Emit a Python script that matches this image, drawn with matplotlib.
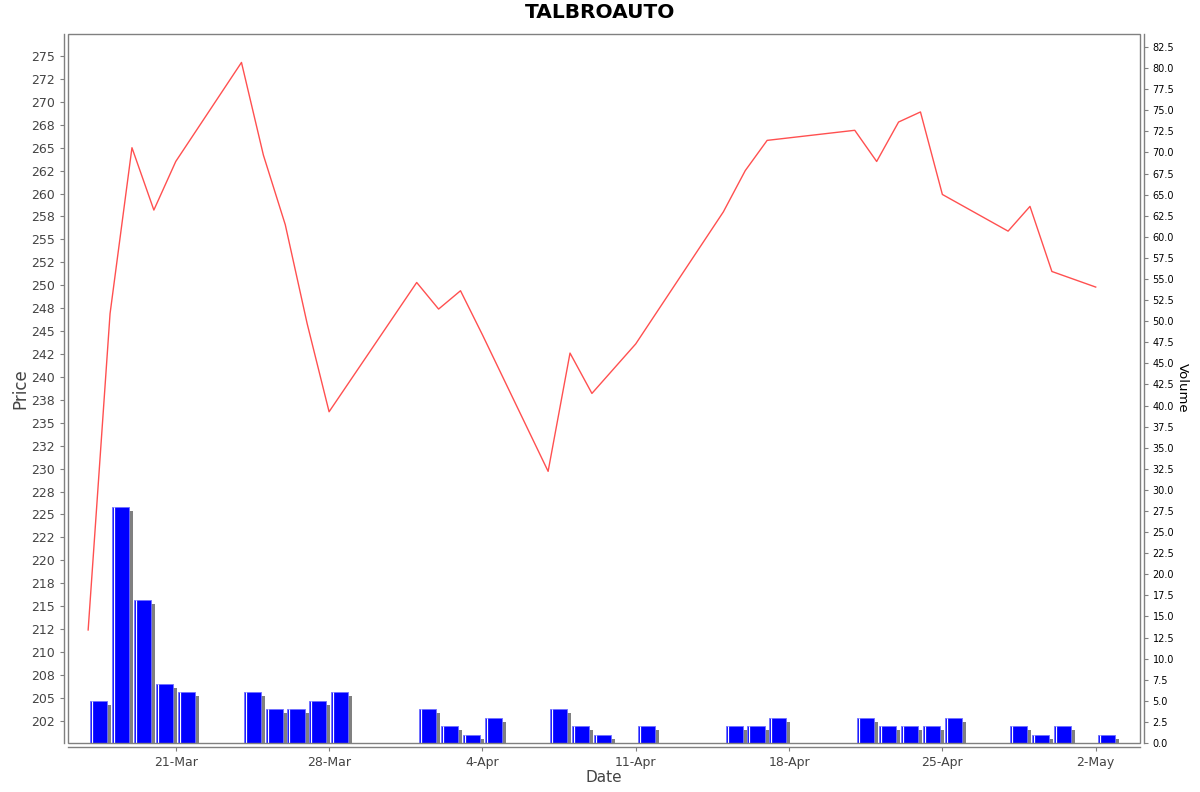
import matplotlib
matplotlib.use("Agg")
import matplotlib.pyplot as plt
import matplotlib.dates as mdates
import matplotlib.patheffects as pe
import numpy as np
from datetime import datetime

# trading days (2025) and values
dates = ["2025-03-17", "2025-03-18", "2025-03-19", "2025-03-20", "2025-03-21",
         "2025-03-24", "2025-03-25", "2025-03-26", "2025-03-27", "2025-03-28",
         "2025-04-01", "2025-04-02", "2025-04-03", "2025-04-04",
         "2025-04-07", "2025-04-08", "2025-04-09", "2025-04-11",
         "2025-04-15", "2025-04-16", "2025-04-17",
         "2025-04-21", "2025-04-22", "2025-04-23", "2025-04-24", "2025-04-25",
         "2025-04-28", "2025-04-29", "2025-04-30", "2025-05-02"]
price = [212.4, 246.9, 265.0, 258.2, 263.5,
         274.3, 264.2, 256.6, 245.8, 236.2,
         250.3, 247.4, 249.4, 244.6,
         229.7, 242.6, 238.2, 243.6,
         258.0, 262.5, 265.8,
         266.9, 263.5, 267.8, 268.9, 259.9,
         255.9, 258.6, 251.5, 249.8]
volume = [5, 28, 17, 7, 6,
          6, 4, 4, 5, 6,
          4, 2, 1, 3,
          4, 2, 1, 2,
          2, 2, 3,
          3, 2, 2, 2, 3,
          2, 1, 2, 1]

title = "TALBROAUTO"

x = mdates.date2num([datetime.strptime(d, "%Y-%m-%d") for d in dates])

W, H = 1200, 792
fig = plt.figure(figsize=(W / 100, H / 100), dpi=100)
L, R, T, B = 68, 1139.5, 34.3, 743
ax = fig.add_axes([L / W, 1 - B / H, (R - L) / W, (B - T) / H])
ax2 = ax.twinx()

frame_col = "#808080"
off = 4 * 72 / 100  # 4 px outward axis lines

# spines / tick styling first, so label sizes set later stick
for a in (ax, ax2):
    for s in a.spines.values():
        s.set_visible(False)
    a.tick_params(colors=frame_col, length=3, width=0.8)

ax.spines["left"].set_visible(True)
ax.spines["left"].set_position(("outward", off))
ax.spines["bottom"].set_visible(True)
ax.spines["bottom"].set_position(("outward", off))
ax2.spines["right"].set_visible(True)
ax2.spines["right"].set_position(("outward", off))
for s in (ax.spines["left"], ax.spines["bottom"], ax2.spines["right"]):
    s.set_color(frame_col)
    s.set_linewidth(1.0)

# volume bars (right axis)
bars = ax2.bar(x + 0.1, volume, width=0.78, align="edge", color="#0000ff",
               edgecolor="#7070ff", linewidth=0.6, zorder=2)
for b in bars:
    b.set_path_effects([pe.SimplePatchShadow(offset=(off, -off), shadow_rgbFace="#808080", alpha=1.0),
                        pe.Normal()])
ax2.vlines(x + 0.19, 0, volume, colors="white", linewidth=0.9, zorder=3)
ax2.set_ylim(0, 84)
vt = np.arange(0, 83, 2.5)
ax2.set_yticks(vt, [f"{v:.1f}" for v in vt])
ax2.tick_params(axis="y", labelsize=7, labelcolor="black")
fig.text(1182 / W, 1 - 388 / H, "Volume", rotation=270, fontsize=9.5,
         ha="center", va="center", color="black")

# price line (left axis)
ax.set_zorder(ax2.get_zorder() + 1)
ax.patch.set_visible(False)
ax.plot(x, price, color="#ff5050", linewidth=1.0)
ax.set_ylim(200.07, 277.37)
ticks = np.arange(202.5, 276, 2.5)
ax.set_yticks(ticks, [f"{v:.0f}" for v in ticks])
ax.tick_params(axis="y", labelsize=9, labelcolor="#444444")
ax.set_ylabel("Price", fontsize=12, color="#444444", labelpad=1)

ax.set_xlim(x[0] - 0.92, x[-1] + 2.0)
ax.xaxis.set_major_locator(mdates.WeekdayLocator(byweekday=mdates.FR))
ax.xaxis.set_major_formatter(mdates.DateFormatter("%-d-%b"))
ax.tick_params(axis="x", labelsize=9, labelcolor="#444444")
ax.set_xlabel("Date", fontsize=11, color="#444444", labelpad=1)

ax.add_patch(plt.Rectangle((0, 0), 1, 1, transform=ax.transAxes, fill=False,
                           edgecolor=frame_col, linewidth=1.0, clip_on=False, zorder=5))

fig.suptitle(title, fontsize=14.5, fontweight="bold", y=1 - 13 / H, va="center")

fig.savefig("out.png", dpi=100)
